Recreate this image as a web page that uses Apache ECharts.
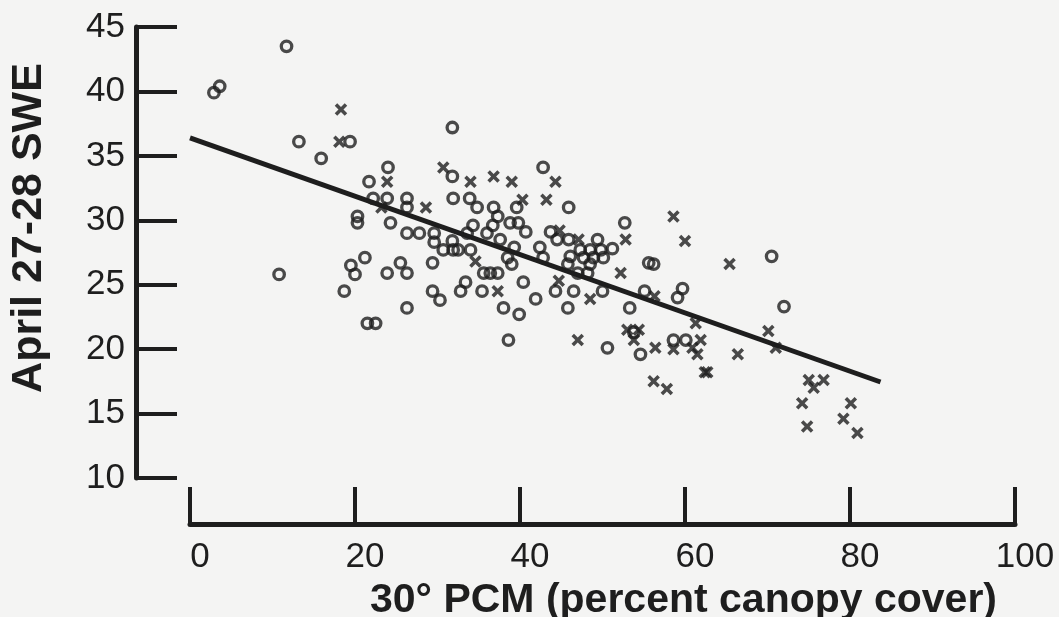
<!DOCTYPE html>
<html>
<head>
<meta charset="utf-8">
<title>April 27-28 SWE vs PCM</title>
<script src="https://cdn.jsdelivr.net/npm/echarts@6/dist/echarts.min.js"></script>
<style>
    html, body {margin: 0; padding: 0; background: #f4f4f3;}
    #chart {width: 1059px; height: 617px;}
</style>
</head>
<body>
<div id="chart"></div>
<script>
// open circles [pcm, swe]
const circlePoints = [
    [11.7, 43.5], [2.9, 39.9], [3.6, 40.4], [13.2, 36.1], [19.4, 36.1], [15.9, 34.8],
    [24.0, 34.1], [31.8, 37.2], [31.8, 33.4], [21.7, 33.0], [22.2, 31.7], [23.9, 31.7],
    [26.3, 31.7], [26.3, 31.0], [31.9, 31.7], [33.9, 31.7], [34.8, 31.0], [36.8, 31.0],
    [20.3, 30.3], [20.3, 29.8], [24.3, 29.8], [10.8, 25.8], [19.5, 26.5], [20.0, 25.8],
    [18.7, 24.5], [26.3, 29.0], [27.8, 29.0], [29.6, 29.0], [29.6, 28.3], [30.7, 27.7],
    [31.9, 27.7], [32.5, 27.7], [31.8, 28.4], [34.0, 27.7], [33.6, 29.0], [34.3, 29.6],
    [36.0, 29.0], [36.7, 29.6], [37.3, 30.3], [21.2, 27.1], [23.9, 25.9], [25.5, 26.7],
    [26.3, 25.9], [29.4, 26.7], [35.6, 25.9], [36.4, 25.9], [37.3, 25.9], [29.4, 24.5],
    [30.3, 23.8], [32.8, 24.5], [33.4, 25.2], [35.4, 24.5], [26.3, 23.2], [21.5, 22.0],
    [22.5, 22.0], [38.0, 23.2], [42.8, 34.1], [39.6, 31.0], [45.9, 31.0], [38.8, 29.8],
    [39.8, 29.8], [40.7, 29.1], [52.7, 29.8], [43.7, 29.1], [44.5, 28.5], [45.9, 28.5],
    [49.4, 28.5], [37.6, 28.5], [39.3, 27.9], [42.4, 27.9], [47.3, 27.7], [48.5, 27.7],
    [49.8, 27.7], [51.2, 27.8], [38.5, 27.1], [42.8, 27.1], [46.1, 27.2], [47.7, 27.1],
    [48.9, 27.1], [50.1, 27.1], [55.6, 26.7], [39.0, 26.6], [40.4, 25.2], [41.9, 23.9],
    [39.9, 22.7], [44.3, 24.5], [46.5, 24.5], [45.8, 26.6], [47.0, 25.9], [48.2, 25.9],
    [48.5, 26.6], [45.8, 23.2], [50.0, 24.5], [55.1, 24.5], [53.3, 23.2], [38.6, 20.7],
    [50.6, 20.1], [53.8, 21.3], [54.6, 19.6], [56.2, 26.6], [70.5, 27.2], [59.1, 24.0],
    [59.7, 24.7], [72.0, 23.3], [58.6, 20.7], [60.1, 20.7]
];

// crosses [pcm, swe]
const crossPoints = [
    [18.3, 38.6], [18.1, 36.1], [30.7, 34.1], [34.0, 33.0], [36.8, 33.4], [23.9, 33.0],
    [23.2, 31.0], [28.6, 31.0], [34.6, 26.8], [37.3, 24.5], [39.0, 33.0], [44.3, 33.0],
    [40.3, 31.6], [43.2, 31.6], [44.8, 29.2], [47.1, 28.5], [52.8, 28.5], [44.7, 25.3],
    [48.5, 23.9], [52.2, 25.9], [47.0, 20.7], [53.0, 21.5], [54.4, 21.5], [53.8, 20.7],
    [58.6, 30.3], [60.0, 28.4], [65.4, 26.6], [56.3, 24.1], [61.3, 22.0], [58.6, 20.0],
    [61.9, 20.7], [60.9, 20.1], [61.5, 19.6], [56.4, 20.1], [66.4, 19.6], [70.1, 21.4],
    [71.0, 20.1], [62.4, 18.2], [62.7, 18.2], [56.2, 17.5], [57.8, 16.9], [75.0, 17.6],
    [75.6, 17.0], [76.8, 17.6], [74.2, 15.8], [80.1, 15.8], [79.2, 14.6], [74.8, 14.0],
    [80.9, 13.5]
];

// fitted line, ends
const fitLine = [[0, 36.4], [83.7, 17.45]];

const xTicks = [0, 20, 40, 60, 80, 100];
const yTicks = [10, 15, 20, 25, 30, 35, 40, 45];

const ink = '#1e1e1e';
const crossPath = 'path://M0,2L2,0L5,3L8,0L10,2L7,5L10,8L8,10L5,7L2,10L0,8L3,5Z';

let chart = echarts.init(document.getElementById('chart'), null, {renderer: 'canvas'});

chart.setOption({
    backgroundColor: '#f4f4f3',
    animation: false,
    textStyle: {fontFamily: 'Liberation Sans'},
    // keep the plot box fixed, axes and names sit outside it
    grid: {left: 190, right: 44, top: 27, bottom: 139, outerBoundsMode: 'none'},
    xAxis: {
        type: 'value',
        min: xTicks[0],
        max: xTicks[xTicks.length - 1],
        interval: 20,
        position: 'bottom',
        offset: 46,
        axisLine: {onZero: false, lineStyle: {color: ink, width: 5}},
        axisTick: {inside: true, length: 37, lineStyle: {color: ink, width: 4}},
        axisLabel: {color: ink, fontSize: 35, margin: 16, padding: [0, 0, 0, 20]},
        splitLine: {show: false},
        name: '30° PCM (percent canopy cover)',
        nameLocation: 'middle',
        nameGap: 50,
        nameTextStyle: {color: ink, fontSize: 41, fontWeight: 'bold', padding: [0, 0, 0, 162]}
    },
    yAxis: {
        type: 'value',
        min: yTicks[0],
        max: yTicks[yTicks.length - 1],
        interval: 5,
        position: 'left',
        offset: 54,
        axisLine: {onZero: false, lineStyle: {color: ink, width: 5}},
        axisTick: {inside: true, length: 41, lineStyle: {color: ink, width: 4}},
        axisLabel: {color: ink, fontSize: 35, margin: 11},
        splitLine: {show: false},
        name: 'April 27-28 SWE',
        nameLocation: 'middle',
        nameRotate: 90,
        nameGap: 85,
        nameTextStyle: {color: ink, fontSize: 43, fontWeight: 'bold', padding: [0, 0, 0, 49]}
    },
    series: [
        {
            name: 'fit',
            type: 'line',
            data: fitLine,
            showSymbol: false,
            lineStyle: {color: ink, width: 5},
            z: 3
        },
        {
            name: 'circles',
            type: 'scatter',
            data: circlePoints,
            symbol: 'circle',
            symbolSize: 10.5,
            itemStyle: {color: 'rgba(0,0,0,0)', borderColor: ink, borderWidth: 3.3},
            z: 4
        },
        {
            name: 'crosses',
            type: 'scatter',
            data: crossPoints,
            symbol: crossPath,
            symbolSize: 12.5,
            itemStyle: {color: ink},
            z: 4
        }
    ]
});
</script>
</body>
</html>
